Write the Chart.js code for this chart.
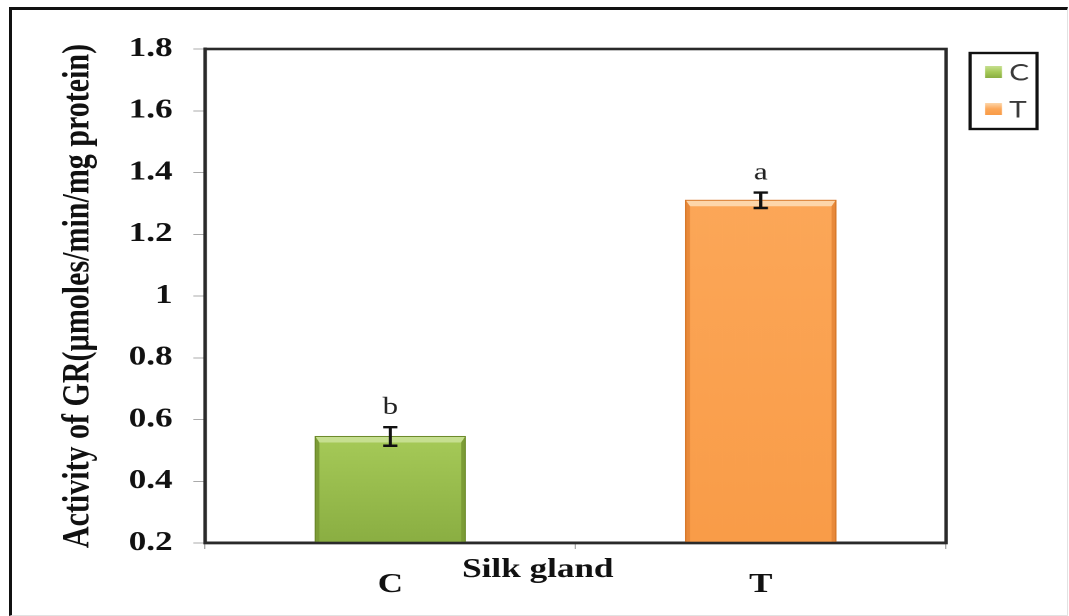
<!DOCTYPE html>
<html>
<head>
<meta charset="utf-8">
<script src="https://cdn.jsdelivr.net/npm/chart.js@4/dist/chart.umd.min.js"></script>
<style>
  html, body { margin: 0; padding: 0; background: #fff; overflow: hidden; }
  #frame {
    position: absolute; left: 9px; top: 7px; width: 1059px; height: 609px;
    box-sizing: border-box;
    border-left: 3px solid #111; border-top: 3px solid #111;
    border-right: 1px solid #e2e2e2; border-bottom: 1px solid #e2e2e2;
  }
  /* the source picture is stretched sideways, so stretch the canvas too */
  #wrap {
    position: absolute; left: 0; top: 0;
    transform: scaleX(1.3); transform-origin: 0 0;
  }
</style>
</head>
<body>
<div id="frame"></div>
<div id="wrap"><canvas id="grafica" width="822" height="616"></canvas></div>
<script>
// datos
const categorias = ["C", "T"];
const series = ["C", "T"];
const valoresC = [0.545, null];
const valoresT = [null, 1.31];
const errores = [0.03, 0.025];
const letras = ["b", "a"];
const ejeY = { min: 0.2, max: 1.8, paso: 0.2 };

const tituloY = "Activity of GR(\u00b5moles/min/mg protein)";
const tituloX = "Silk gland";

const colores = [
    { arriba: "#a6ca58", abajo: "#8aae42", bisel: "#c6df90", lado: "#7c9c36", borde: "#6c8a2a" },
    { arriba: "#fca758", abajo: "#f99c48", bisel: "#fdd6aa", lado: "#e8893a", borde: "#d8792a" }
];

const serif = "'Liberation Serif', 'Times New Roman', serif";

function relleno(i) {
    return (context) => {
        const chart = context.chart;
        const area = chart.chartArea;
        const y = chart.scales.y;
        if (!area || !y || context.raw == null) return colores[i].abajo;
        const top = y.getPixelForValue(context.raw);
        if (!isFinite(top) || !isFinite(area.bottom)) return colores[i].abajo;
        const g = chart.ctx.createLinearGradient(0, top, 0, area.bottom);
        g.addColorStop(0, colores[i].arriba);
        g.addColorStop(1, colores[i].abajo);
        return g;
    };
}

// bisel de las barras, barras de error y letras
const decoracion = {
    id: "decoracion",
    afterDatasetsDraw(chart) {
        const ctx = chart.ctx;
        const y = chart.scales.y;
        const a = chart.chartArea;
        const bx = 3.2, by = 6;
        chart.data.datasets.forEach((ds, i) => {
            const meta = chart.getDatasetMeta(i);
            meta.data.forEach((el, j) => {
                const v = ds.data[j];
                if (v == null) return;
                const izq = el.x - el.width / 2, der = el.x + el.width / 2;
                const top = el.y, base = Math.min(el.base, a.bottom);
                ctx.save();
                ctx.fillStyle = colores[i].bisel;
                ctx.beginPath();
                ctx.moveTo(izq, top); ctx.lineTo(der, top);
                ctx.lineTo(der - bx, top + by); ctx.lineTo(izq + bx, top + by);
                ctx.closePath(); ctx.fill();
                ctx.fillStyle = colores[i].lado;
                ctx.beginPath();
                ctx.moveTo(izq, top); ctx.lineTo(izq + bx, top + by);
                ctx.lineTo(izq + bx, base); ctx.lineTo(izq, base);
                ctx.closePath(); ctx.fill();
                ctx.beginPath();
                ctx.moveTo(der, top); ctx.lineTo(der - bx, top + by);
                ctx.lineTo(der - bx, base); ctx.lineTo(der, base);
                ctx.closePath(); ctx.fill();
                ctx.strokeStyle = colores[i].borde;
                ctx.lineWidth = 1;
                ctx.strokeRect(izq, top, el.width, base - top);

                // barra de error
                const e = errores[i];
                const yArr = y.getPixelForValue(v + e);
                const yAba = y.getPixelForValue(v - e);
                const cap = 5.5;
                ctx.strokeStyle = "#111";
                ctx.lineWidth = 2.4;
                ctx.beginPath();
                ctx.moveTo(el.x, yArr); ctx.lineTo(el.x, yAba);
                ctx.moveTo(el.x - cap, yArr); ctx.lineTo(el.x + cap, yArr);
                ctx.moveTo(el.x - cap, yAba); ctx.lineTo(el.x + cap, yAba);
                ctx.stroke();

                // letra de significancia
                ctx.fillStyle = "#222";
                ctx.font = "24px " + serif;
                ctx.textAlign = "center";
                ctx.textBaseline = "alphabetic";
                ctx.fillText(letras[i], el.x, yArr - 13);
                ctx.restore();
            });
        });

        // marco del area de trazado
        ctx.save();
        ctx.strokeStyle = "#2a2a2a";
        ctx.lineWidth = 2.6;
        ctx.strokeRect(a.left, a.top, a.right - a.left, a.bottom - a.top);
        ctx.restore();
    },
    afterDraw(chart) {
        const ctx = chart.ctx;
        const a = chart.chartArea;
        ctx.save();
        // titulo del eje x, encima de las etiquetas
        ctx.fillStyle = "#111";
        ctx.font = "bold 27px " + serif;
        ctx.textAlign = "center";
        ctx.textBaseline = "middle";
        ctx.fillText(tituloX, (a.left + a.right) / 2 - 29, 570);

        // leyenda con marco
        const lx = a.right + 18.5, ly = 53, lw = 51.5, lh = 76;
        ctx.strokeStyle = "#111";
        ctx.lineWidth = 2.4;
        ctx.strokeRect(lx, ly, lw, lh);
        chart.data.datasets.forEach((ds, i) => {
            const cy = 72 + 37 * i;
            const g = ctx.createLinearGradient(0, cy - 6, 0, cy + 6);
            g.addColorStop(0, colores[i].bisel);
            g.addColorStop(0.5, colores[i].arriba);
            g.addColorStop(1, colores[i].abajo);
            ctx.fillStyle = g;
            ctx.fillRect(lx + 11.5, cy - 6, 13, 12);
            ctx.fillStyle = "#3a3a3a";
            ctx.font = "23px Lato, 'Open Sans', sans-serif";
            ctx.textAlign = "left";
            ctx.textBaseline = "middle";
            ctx.fillText(ds.label, lx + 30, cy + 1);
        });
        ctx.restore();
    }
};

new Chart(document.getElementById("grafica"), {
    type: "bar",
    data: {
        labels: categorias,
        datasets: [
            { label: series[0], data: valoresC, backgroundColor: relleno(0), borderWidth: 0 },
            { label: series[1], data: valoresT, backgroundColor: relleno(1), borderWidth: 0 }
        ]
    },
    options: {
        responsive: false,
        animation: false,
        devicePixelRatio: 2,
        skipNull: true,
        barPercentage: 0.405,
        categoryPercentage: 1,
        layout: { padding: { top: 49, right: 94.3, bottom: 0, left: 0 } },
        plugins: { legend: { display: false }, tooltip: { enabled: false } },
        scales: {
            x: {
                afterFit: (s) => { s.height = 73; },
                grid: { drawOnChartArea: false, tickLength: 6, color: "#aaa", offset: true },
                border: { display: true, color: "#2a2a2a", width: 2.6 },
                ticks: { color: "#111", padding: 20, font: { family: serif, size: 27, weight: "bold" } }
            },
            y: {
                min: ejeY.min,
                max: ejeY.max,
                afterFit: (s) => { s.width = 157.7; },
                grid: { drawOnChartArea: false, tickLength: 9, color: "#aaa" },
                border: { display: true, color: "#2a2a2a", width: 2.6 },
                ticks: {
                    stepSize: ejeY.paso,
                    color: "#111",
                    padding: 16,
                    font: { family: serif, size: 27, weight: "bold" },
                    callback: (v) => String(Number(v.toFixed(1)))
                },
                title: {
                    display: true,
                    text: tituloY,
                    color: "#111",
                    padding: { top: 42, bottom: 0 },
                    font: { family: serif, size: 30, weight: "bold" }
                }
            }
        }
    },
    plugins: [decoracion]
});
</script>
</body>
</html>
